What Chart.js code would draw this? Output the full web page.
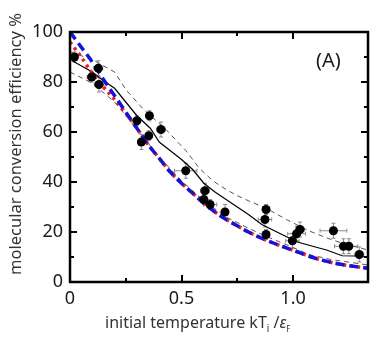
<!DOCTYPE html>
<html>
<head>
<meta charset="utf-8">
<script src="https://cdn.jsdelivr.net/npm/chart.js@4.4.0/dist/chart.umd.min.js"></script>
<style>
  html, body { margin: 0; padding: 0; background: #fff; }
  #wrap { width: 382px; height: 339px; }
</style>
</head>
<body>
<div id="wrap"><canvas id="chart" width="382" height="339"></canvas></div>
<script>
// measured conversion efficiency (filled circles) with error bars
const obsX    = [0.02, 0.127, 0.097, 0.13, 0.30, 0.356, 0.408, 0.353, 0.32, 0.519, 0.605, 0.60, 0.628, 0.695, 0.879, 0.874, 0.879, 0.997, 1.016, 1.031, 1.181, 1.226, 1.25, 1.297];
const obsY    = [90, 85.5, 82, 79, 64.5, 66.5, 61, 58.5, 56, 44.5, 36.5, 33, 31, 28, 29, 25, 19, 16.5, 19.3, 21, 20.5, 14.3, 14.3, 11];
const obsXErr = [0.01, 0.02, 0.02, 0.02, 0.01, 0.01, 0.02, 0.01, 0.01, 0.05, 0.02, 0.01, 0.03, 0.01, 0.01, 0.03, 0.01, 0.03, 0.04, 0.02, 0.06, 0.04, 0.04, 0.02];
const obsYErr = [2, 3, 2, 3, 2, 2, 3, 2, 3, 3, 3, 2, 2, 3, 2, 3, 2, 3, 3, 3, 3, 3, 3, 3];

// simulation (solid) and its upper / lower bounds (grey dashed)
const simX = [0.01, 0.05, 0.10, 0.15, 0.20, 0.25, 0.30, 0.36, 0.40, 0.45, 0.50, 0.55, 0.60, 0.65, 0.70, 0.75, 0.80, 0.86, 0.95, 1.02, 1.10, 1.15, 1.22, 1.28, 1.336];
const simY = [88.5, 86.5, 84, 80.5, 77.5, 72, 66.5, 61.5, 56, 52.5, 49, 45, 39.5, 36, 33, 30, 27, 23, 19, 16, 14, 12.8, 10.5, 10.4, 10];
const simUpX = [0.0, 0.1, 0.2, 0.25, 0.33, 0.43, 0.52, 0.58, 0.64, 0.70, 0.75, 0.80, 0.88, 0.97, 1.07, 1.17, 1.24, 1.336];
const simUpY = [92, 89, 84, 77, 69, 61, 52.5, 45.5, 40.5, 37, 34.5, 32.5, 29.5, 25, 20.5, 17, 15, 12.8];
const simLoX = [0.0, 0.1, 0.2, 0.3, 0.4, 0.5, 0.6, 0.7, 0.8, 0.9, 1.0, 1.07, 1.17, 1.336];
const simLoY = [84, 79.5, 72, 61, 50, 40.5, 32.5, 26, 21.5, 17.5, 13.8, 11, 9, 6.8];

// theory curves: blue dashed and red dotted
const blueX = [0, 0.05, 0.1, 0.15, 0.2, 0.25, 0.3, 0.35, 0.4, 0.45, 0.5, 0.55, 0.6, 0.65, 0.7, 0.75, 0.8, 0.9, 1.0, 1.1, 1.2, 1.336];
const blueY = [100, 94, 88, 81, 74.5, 68, 61.5, 55, 49.5, 44, 39.5, 35.5, 31.5, 28, 25, 22.5, 20, 16, 12.7, 9.5, 7.3, 5.5];
const redX  = [0, 0.05, 0.1, 0.15, 0.2, 0.25, 0.3, 0.35, 0.4, 0.45, 0.5, 0.55, 0.6, 0.65, 0.7, 0.75, 0.8, 0.9, 1.0, 1.1, 1.2, 1.336];
const redY  = [96, 90, 83.5, 78, 73, 67.5, 61.5, 55, 49.5, 44, 39.5, 35.5, 31.5, 28, 25, 22.5, 20, 16, 12.7, 9.5, 7.3, 5.5];

// tick labels
const xTickValues = [0, 0.5, 1.0];
const xTickText   = ['0', '0.5', '1.0'];
const yTickValues = [0, 20, 40, 60, 80, 100];

function pairs(xs, ys) {
    return xs.map((x, i) => ({ x: x, y: ys[i] }));
}

const FONT = '"Noto Sans", "DejaVu Sans", sans-serif';

// error bars under the points
const errorBars = {
    id: 'errorBars',
    beforeDatasetsDraw(chart) {
        const ctx = chart.ctx;
        const xs = chart.scales.x, ys = chart.scales.y;
        ctx.save();
        ctx.strokeStyle = '#8a8a8a';
        ctx.lineWidth = 1;
        obsX.forEach((x, i) => {
            const px = xs.getPixelForValue(x), py = ys.getPixelForValue(obsY[i]);
            const x0 = xs.getPixelForValue(x - obsXErr[i]), x1 = xs.getPixelForValue(x + obsXErr[i]);
            const y0 = ys.getPixelForValue(obsY[i] - obsYErr[i]), y1 = ys.getPixelForValue(obsY[i] + obsYErr[i]);
            ctx.beginPath();
            ctx.moveTo(x0, py); ctx.lineTo(x1, py);
            ctx.moveTo(x0, py - 2); ctx.lineTo(x0, py + 2);
            ctx.moveTo(x1, py - 2); ctx.lineTo(x1, py + 2);
            ctx.moveTo(px, y0); ctx.lineTo(px, y1);
            ctx.moveTo(px - 2, y0); ctx.lineTo(px + 2, y0);
            ctx.moveTo(px - 2, y1); ctx.lineTo(px + 2, y1);
            ctx.stroke();
        });
        ctx.restore();
    }
};

// box frame with inward ticks on all four sides, plus titles
const frame = {
    id: 'frame',
    afterDraw(chart) {
        const ctx = chart.ctx;
        const a = chart.chartArea;
        const xs = chart.scales.x, ys = chart.scales.y;
        ctx.save();
        ctx.strokeStyle = '#000';
        ctx.lineWidth = 2;
        ctx.beginPath();
        xs.ticks.forEach(t => {
            const v = t.value;
            if (Math.abs(v / 0.25 - Math.round(v / 0.25)) > 1e-6 || v <= 0) return;
            const len = Math.abs(v / 0.5 - Math.round(v / 0.5)) < 1e-6 ? 7 : 4;
            const px = Math.round(xs.getPixelForValue(v));
            ctx.moveTo(px, a.bottom); ctx.lineTo(px, a.bottom - len);
            ctx.moveTo(px, a.top); ctx.lineTo(px, a.top + len);
        });
        ys.ticks.forEach(t => {
            const v = t.value;
            if (v <= 0 || v >= 100) return;
            const len = v % 20 === 0 ? 7 : 4;
            const py = Math.round(ys.getPixelForValue(v));
            ctx.moveTo(a.left, py); ctx.lineTo(a.left + len, py);
            ctx.moveTo(a.right, py); ctx.lineTo(a.right - len, py);
        });
        ctx.stroke();
        ctx.lineWidth = 2.5;
        ctx.strokeRect(a.left, a.top, a.right - a.left, a.bottom - a.top);

        // panel tag
        ctx.fillStyle = '#1a1a1a';
        ctx.font = '20px ' + FONT;
        ctx.textAlign = 'left';
        ctx.textBaseline = 'alphabetic';
        ctx.fillText('(A)', 316, 67);

        // y title
        ctx.save();
        ctx.translate(16, 144);
        ctx.rotate(-Math.PI / 2);
        ctx.textAlign = 'center';
        ctx.textBaseline = 'middle';
        ctx.font = '16.5px ' + FONT;
        ctx.fillStyle = '#333';
        ctx.fillText('molecular conversion efficiency %', 0, 0);
        ctx.restore();

        // x title with subscripts
        const parts = [
            { t: 'initial temperature kT', f: '16px ' + FONT, dy: 0 },
            { t: 'i', f: '10px ' + FONT, dy: 4 },
            { t: ' /', f: '16px ' + FONT, dy: 0 },
            { t: 'ε', f: 'italic 16px ' + FONT, dy: 0 },
            { t: 'F', f: '8px ' + FONT, dy: 4 }
        ];
        let x = 105;
        const base = 328;
        ctx.fillStyle = '#333';
        ctx.textAlign = 'left';
        ctx.textBaseline = 'alphabetic';
        parts.forEach(p => {
            ctx.font = p.f;
            ctx.fillText(p.t, x, base + p.dy);
            x += ctx.measureText(p.t).width;
        });
        ctx.restore();
    }
};

new Chart(document.getElementById('chart'), {
    type: 'scatter',
    data: {
        datasets: [
            {
                label: 'measured',
                data: pairs(obsX, obsY),
                backgroundColor: '#000',
                borderColor: '#000',
                pointRadius: 4.5,
                pointBorderWidth: 0,
                showLine: false,
                order: 0
            },
            {
                label: 'theory (blue)',
                data: pairs(blueX, blueY),
                showLine: true,
                borderColor: '#1414d8',
                borderWidth: 3.5,
                borderDash: [9, 5],
                pointRadius: 0,
                tension: 0.4,
                cubicInterpolationMode: 'monotone',
                order: 1
            },
            {
                label: 'theory (red)',
                data: pairs(redX, redY),
                showLine: true,
                borderColor: '#f02020',
                borderWidth: 3.5,
                borderDash: [3, 4],
                pointRadius: 0,
                cubicInterpolationMode: 'monotone',
                order: 2
            },
            {
                label: 'simulation',
                data: pairs(simX, simY),
                showLine: true,
                borderColor: '#000',
                borderWidth: 1.2,
                pointRadius: 0,
                tension: 0,
                order: 3
            },
            {
                label: 'upper',
                data: pairs(simUpX, simUpY),
                showLine: true,
                borderColor: '#555',
                borderWidth: 1,
                borderDash: [5, 4],
                pointRadius: 0,
                tension: 0,
                order: 4
            },
            {
                label: 'lower',
                data: pairs(simLoX, simLoY),
                showLine: true,
                borderColor: '#555',
                borderWidth: 1,
                borderDash: [5, 4],
                pointRadius: 0,
                tension: 0,
                order: 5
            }
        ]
    },
    options: {
        responsive: false,
        animation: false,
        devicePixelRatio: 1,
        layout: { padding: { top: 32, right: 14, left: 0, bottom: 0 } },
        plugins: {
            legend: { display: false },
            tooltip: { enabled: false }
        },
        scales: {
            x: {
                type: 'linear',
                min: 0,
                max: 1.336,
                afterFit: s => { s.height = 57; },
                grid: { display: false, drawTicks: false },
                border: { display: false },
                ticks: {
                    stepSize: 0.25,
                    autoSkip: false,
                    maxRotation: 0,
                    padding: 6,
                    color: '#1a1a1a',
                    font: { family: FONT, size: 18 },
                    callback: function(value) {
                        const i = xTickValues.findIndex(v => Math.abs(v - value) < 1e-6);
                        return i >= 0 ? xTickText[i] : '';
                    }
                }
            },
            y: {
                type: 'linear',
                min: 0,
                max: 100,
                afterFit: s => { s.width = 70; },
                grid: { display: false, drawTicks: false },
                border: { display: false },
                ticks: {
                    stepSize: 10,
                    autoSkip: false,
                    padding: 7,
                    color: '#1a1a1a',
                    font: { family: FONT, size: 18 },
                    callback: function(value) {
                        return yTickValues.includes(value) ? String(value) : '';
                    }
                }
            }
        }
    },
    plugins: [errorBars, frame]
});
</script>
</body>
</html>
